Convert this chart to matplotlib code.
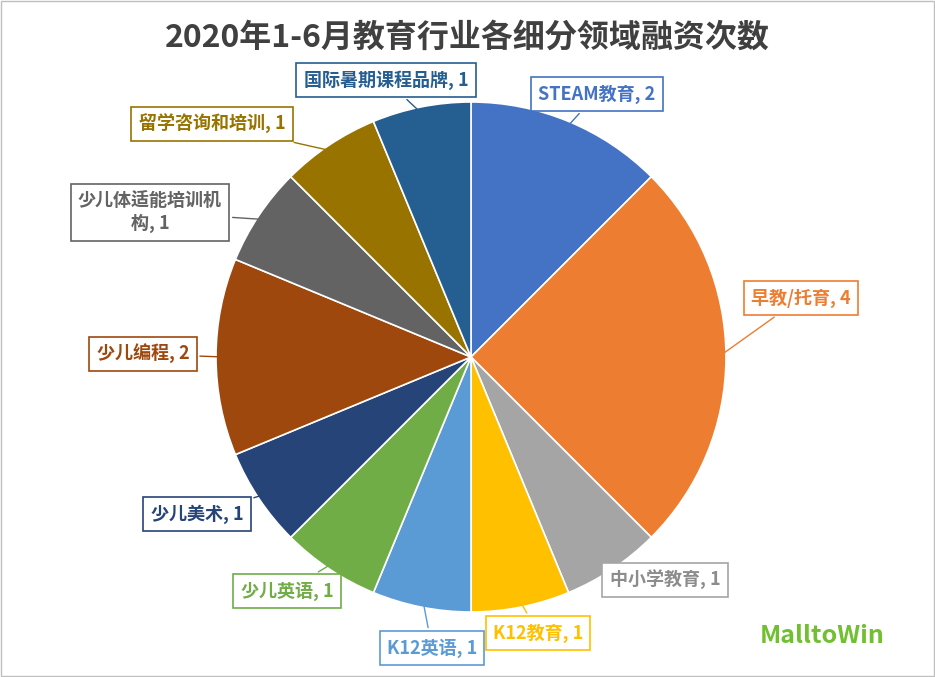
import numpy as np
import matplotlib
matplotlib.use('Agg')
from matplotlib import pyplot as plt
from matplotlib import font_manager
from matplotlib.patches import Rectangle

cjk = [f.name for f in font_manager.fontManager.ttflist if 'CJK' in f.name]
plt.rcParams['font.family'] = sorted(set(cjk)) + ['DejaVu Sans']

#  data
categories = ['STEAM教育', '早教/托育', '中小学教育', 'K12教育', 'K12英语', '少儿英语',
              '少儿美术', '少儿编程', '少儿体适能培训机\n构', '留学咨询和培训', '国际暑期课程品牌']
counts = [2, 4, 1, 1, 1, 1, 1, 2, 1, 1, 1]
colors = ['#4472C4', '#ED7D31', '#A5A5A5', '#FFC000', '#5B9BD5', '#70AD47',
          '#264478', '#9E480E', '#636363', '#997300', '#255E91']
#  label box centres in pixels
label_px = [(597, 94), (801, 298), (665, 580), (538, 633), (432, 648), (287, 591),
            (197, 514), (143, 354), (150, 212), (212, 124), (386, 80)]

W, H = 935, 677
fig = plt.figure(figsize=(W / 100, H / 100), dpi=100)
fig.patches.append(Rectangle((0.001, 0.001), 0.998, 0.998, transform=fig.transFigure,
                             fill=False, edgecolor='#BFBFBF', lw=1))

cx, cy, r = 471, 357, 255
ax = fig.add_axes([(cx - r) / W, (H - cy - r) / H, 2 * r / W, 2 * r / H])
wedges, _ = ax.pie(counts, colors=colors, startangle=90, counterclock=False,
                   wedgeprops=dict(edgecolor='white', linewidth=1.2))
ax.set_xlim(-1, 1)
ax.set_ylim(-1, 1)
ax.set_aspect('equal')

for w, name, n, col, (px, py) in zip(wedges, categories, counts, colors, label_px):
    ang = np.deg2rad((w.theta1 + w.theta2) / 2)
    xy = (0.97 * np.cos(ang), 0.97 * np.sin(ang))
    ax.annotate('{}, {}'.format(name, n), xy=xy, xytext=(px / W, 1 - py / H),
                textcoords='figure fraction', ha='center', va='center',
                fontsize=13, fontweight='bold', color=col if col != '#A5A5A5' else '#8C8C8C',
                linespacing=1.3,
                bbox=dict(boxstyle='square,pad=0.4', fc='white', ec=col, lw=1.2),
                arrowprops=dict(arrowstyle='-', color=col, lw=1))

fig.text(0.5, 1 - 38 / H, '2020年1-6月教育行业各细分领域融资次数', ha='center', va='center',
         fontsize=23, fontweight='bold', color='#404040')
fig.text(822 / W, 1 - 636 / H, 'MalltoWin', ha='center', va='center',
         fontsize=18, fontweight='bold', color='#70C030')

fig.savefig('out.png', dpi=100)
